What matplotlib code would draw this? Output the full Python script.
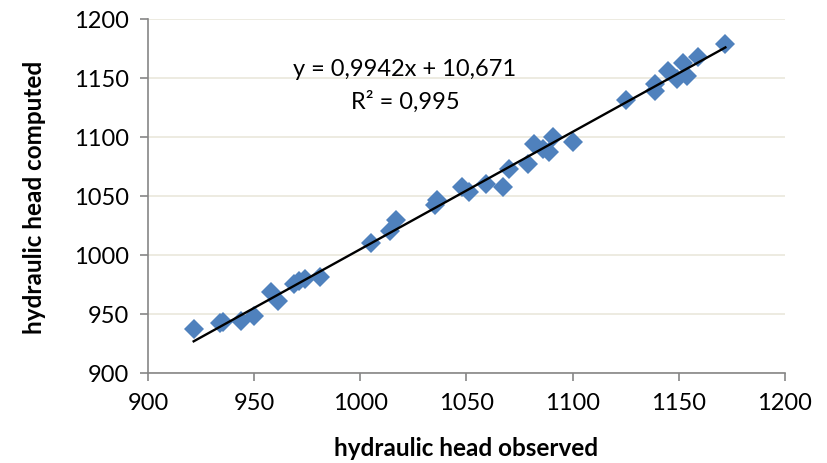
import numpy as np
import matplotlib
matplotlib.use("Agg")
import matplotlib.pyplot as plt

plt.rcParams['font.family'] = ['Lato', 'DejaVu Sans']

# observed vs computed hydraulic head
observed = [921.5, 934, 935.5, 944, 950, 958, 961, 969, 971, 974, 981,
            1005, 1014, 1017, 1035, 1036, 1048, 1051, 1059, 1067, 1070,
            1079, 1082, 1086, 1089, 1091, 1100, 1125, 1139, 1139, 1145,
            1149, 1152, 1154, 1159, 1172]
computed = [937, 942, 943, 944, 948, 969, 961, 975, 978, 980, 981,
            1010, 1020, 1030, 1042, 1047, 1058, 1053, 1060, 1058, 1073,
            1077, 1094, 1090, 1087, 1100, 1096, 1131, 1145, 1139, 1156,
            1149, 1163, 1152, 1168, 1179]
slope = 0.9942
intercept = 10.671
r2_text = "R² = 0,995"
eq_text = "y = 0,9942x + 10,671"

fig = plt.figure(figsize=(8.27, 4.64), dpi=100)
ax = fig.add_axes([0.179, 0.194, 0.770, 0.763])

ax.plot(observed, computed, ls='none', marker='D', markersize=10,
        color='#4F81BD', markeredgewidth=0, zorder=3)

xs = np.array([min(observed), max(observed)])
ax.plot(xs, slope * xs + intercept, color='black', lw=1.7, zorder=4)

ax.set_xlim(900, 1200)
ax.set_ylim(900, 1200)
ax.set_xticks(np.arange(900, 1201, 50))
ax.set_yticks(np.arange(900, 1201, 50))
ax.yaxis.grid(True, color='#EAE7DC', lw=1.2)
ax.set_axisbelow(True)

for side in ['top', 'right']:
    ax.spines[side].set_visible(False)
for side in ['left', 'bottom']:
    ax.spines[side].set_color('#868686')
    ax.spines[side].set_linewidth(1.2)
ax.tick_params(colors='#868686', labelcolor='black', labelsize=17,
               length=6, width=1.2, direction='out')
ax.tick_params(axis='x', pad=8)
ax.tick_params(axis='y', pad=8)

ax.set_xlabel("hydraulic head observed", fontsize=17.5, fontweight='bold', labelpad=16)
ax.set_ylabel("hydraulic head computed", fontsize=17.5, fontweight='bold', labelpad=20)

ax.text(1021, 1158, eq_text, fontsize=17, ha='center', va='center')
ax.text(1021, 1131, r2_text, fontsize=17, ha='center', va='center')

fig.savefig("out.png", dpi=100)
